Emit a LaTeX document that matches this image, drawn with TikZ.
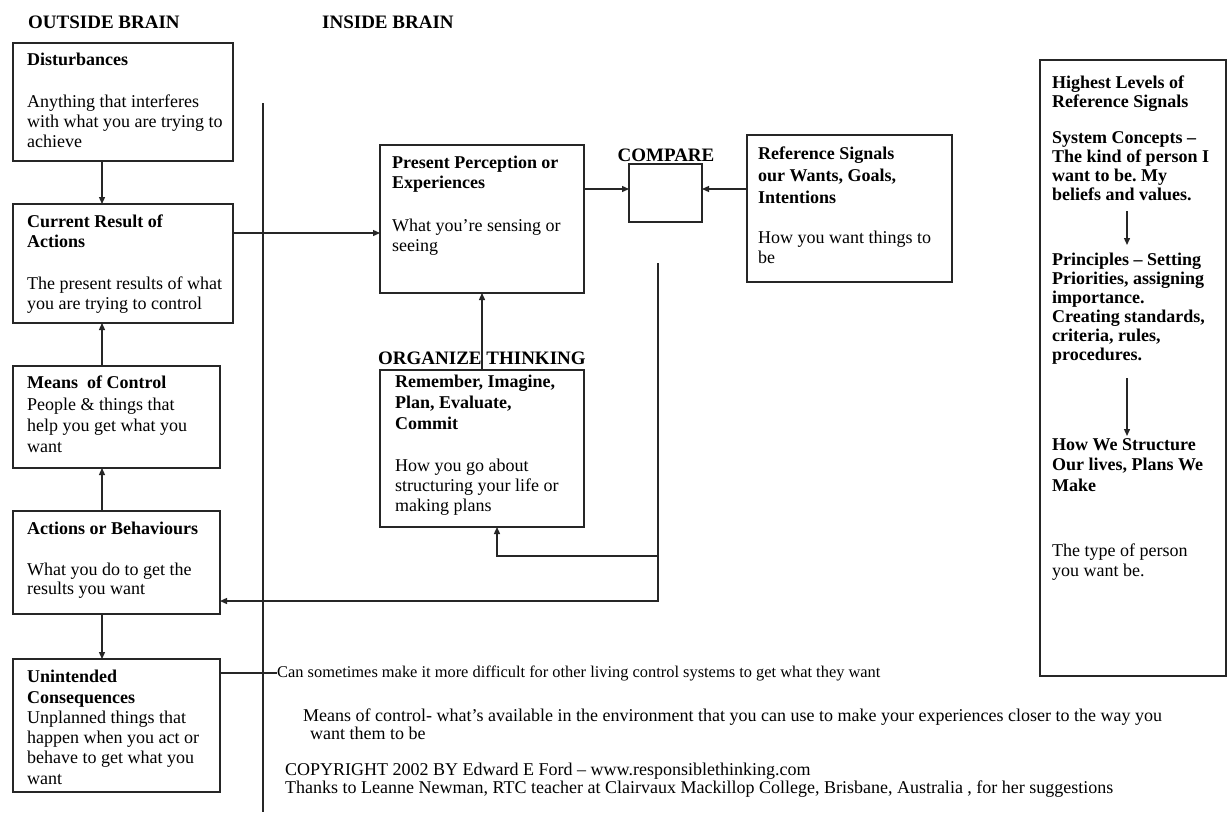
\documentclass[tikz,border=0pt]{standalone}
\usepackage{fontspec}
\setmainfont{Liberation Serif}
\usetikzlibrary{arrows.meta,calc}
\frenchspacing
\begin{document}
\begin{tikzpicture}[x=1pt,y=-1pt,
  box/.style={draw=black!85, line width=1.4pt, inner sep=0pt, outer sep=0pt, anchor=north west},
  txt/.style={inner sep=0pt, anchor=north west, align=left, font=\fontsize{18}{20}\selectfont},
  hdr/.style={inner sep=0pt, font=\fontsize{19}{20}\selectfont\bfseries},
  arr/.style={draw=black!85, line width=1.3pt, -{Triangle[length=7pt,width=6pt]}},
  ln/.style={draw=black!85, line width=1.3pt},
  note/.style={inner sep=0pt, align=left, font=\fontsize{18}{17.5}\selectfont}
]
\useasboundingbox (0,0) rectangle (1230,814);
\fill[white] (0,0) rectangle (1230,814);

% headers
\node[hdr, anchor=base west] (outside) at (28,28) {OUTSIDE BRAIN};
\node[hdr, anchor=base west] (inside) at (322,28) {INSIDE BRAIN};

% divider
\coordinate (dtop) at (263,103);
\coordinate (dbot) at (263,812);
\draw[ln] (dtop) -- (dbot);

% left column boxes
\node[box, minimum width=220pt, minimum height=118pt] (dist) at (13,43) {};
\node[box, minimum width=220pt, minimum height=119pt] (cur) at (13,204) {};
\node[box, minimum width=207pt, minimum height=102pt] (means) at (13,366) {};
\node[box, minimum width=207pt, minimum height=103pt] (act) at (13,511) {};
\node[box, minimum width=207pt, minimum height=133pt] (unint) at (13,659) {};

\node[txt] (distT) at (27,53) {\textbf{Disturbances}\\[22pt]Anything that interferes\\with what you are trying to\\achieve};
\node[txt] (curT) at (27,215) {\textbf{Current Result of}\\\textbf{Actions}\\[22pt]The present results of what\\you are trying to control};
\node[txt, font=\fontsize{18}{21.3}\selectfont] (meansT) at (27,376) {\textbf{Means\ \ of Control}\\People \& things that\\help you get what you\\want};
\node[txt, font=\fontsize{18}{19.5}\selectfont] (actT) at (27,522) {\textbf{Actions or Behaviours}\\[21pt]What you do to get the\\results you want};
\node[txt, font=\fontsize{18}{20.3}\selectfont] (unintT) at (27,670) {\textbf{Unintended}\\\textbf{Consequences}\\Unplanned things that\\happen when you act or\\behave to get what you\\want};

% middle boxes
\node[box, minimum width=204pt, minimum height=148pt] (pp) at (380,145) {};
\node[box, minimum width=73pt, minimum height=58pt] (cmp) at (629,164) {};
\node[box, minimum width=205pt, minimum height=147pt] (ref) at (747,135) {};
\node[box, minimum width=204pt, minimum height=157pt] (org) at (380,370) {};

\node[hdr, anchor=base] (cmplbl) at (666,161) {COMPARE};
\node[hdr, anchor=base west] (orglbl) at (378,364) {ORGANIZE THINKING};

\node[txt] (ppT) at (392,156) {\textbf{Present Perception or}\\\textbf{Experiences}\\[22.7pt]What you're sensing or\\seeing};
\node[txt] (refT) at (758,147) {\textbf{Reference Signals}\\[2pt]\textbf{our Wants, Goals,}\\[2pt]\textbf{Intentions}\\[20pt]How you want things to\\be};
\node[txt] (orgT) at (395,375) {\textbf{Remember, Imagine,}\\[1pt]\textbf{Plan, Evaluate,}\\[1pt]\textbf{Commit}\\[22pt]How you go about\\structuring your life or\\making plans};

% right box
\node[box, minimum width=186pt, minimum height=616pt] (hi) at (1040,60) {};
\node[txt, font=\fontsize{18}{19}\selectfont\bfseries] (hiT) at (1052,76) {Highest Levels of\\Reference Signals\\[17pt]System Concepts –\\The kind of person I\\want to be. My\\beliefs and values.};
\node[txt, font=\fontsize{18}{19}\selectfont\bfseries] (prT) at (1052,253) {Principles – Setting\\Priorities, assigning\\importance.\\Creating standards,\\criteria, rules,\\procedures.};
\node[txt, font=\fontsize{18}{20.5}\selectfont\bfseries] (hwT) at (1052,438) {How We Structure\\Our lives, Plans We\\Make};
\node[txt] (tyT) at (1052,544) {The type of person\\you want be.};
\coordinate (a1s) at (1127,211);
\coordinate (a1e) at (1127,245);
\coordinate (a2s) at (1127,378);
\coordinate (a2e) at (1127,436);
\draw[arr] (a1s) -- (a1e);
\draw[arr] (a2s) -- (a2e);

% left column connectors
\coordinate (colx) at (102,0);
\draw[arr] (dist.south -| colx) -- (cur.north -| colx);
\draw[arr] (means.north -| colx) -- (cur.south -| colx);
\draw[arr] (act.north -| colx) -- (means.south -| colx);
\draw[arr] (act.south -| colx) -- (unint.north -| colx);

% brain connectors
\coordinate (row1) at (0,233);
\draw[arr] (cur.east |- row1) -- (pp.west |- row1);
\coordinate (row2) at (0,189);
\draw[arr] (pp.east |- row2) -- (cmp.west |- row2);
\draw[arr] (ref.west |- row2) -- (cmp.east |- row2);
\draw[arr] (org.north) -- (pp.south);
\coordinate (fbtop) at (658,263);
\coordinate (fbbot) at (658,601);
\coordinate (fbmid) at (658,556);
\coordinate (orgin) at (497,556);
\draw[arr] (fbtop) -- (fbbot) -- (act.east |- fbbot);
\draw[arr] (fbmid) -- (orgin) -- (org.south -| orgin);

% bottom notes
\node[inner sep=0pt, anchor=west, font=\fontsize{16.4}{17}\selectfont] (cantxt) at (277,673) {Can sometimes make it more difficult for other living control systems to get what they want};
\draw[ln] (unint.east |- cantxt.west) -- (cantxt.west);
\node[note, anchor=north west] (meansnote) at (303,709) {Means of control- what's available in the environment that you can use to make your experiences closer to the way you\\\hspace*{7pt}want them to be};
\node[note, anchor=north west] (copy) at (285,763) {COPYRIGHT 2002 BY Edward E Ford – www.responsiblethinking.com\\Thanks to Leanne Newman, RTC teacher at Clairvaux Mackillop College, Brisbane, Australia , for her suggestions};
\end{tikzpicture}
\end{document}
